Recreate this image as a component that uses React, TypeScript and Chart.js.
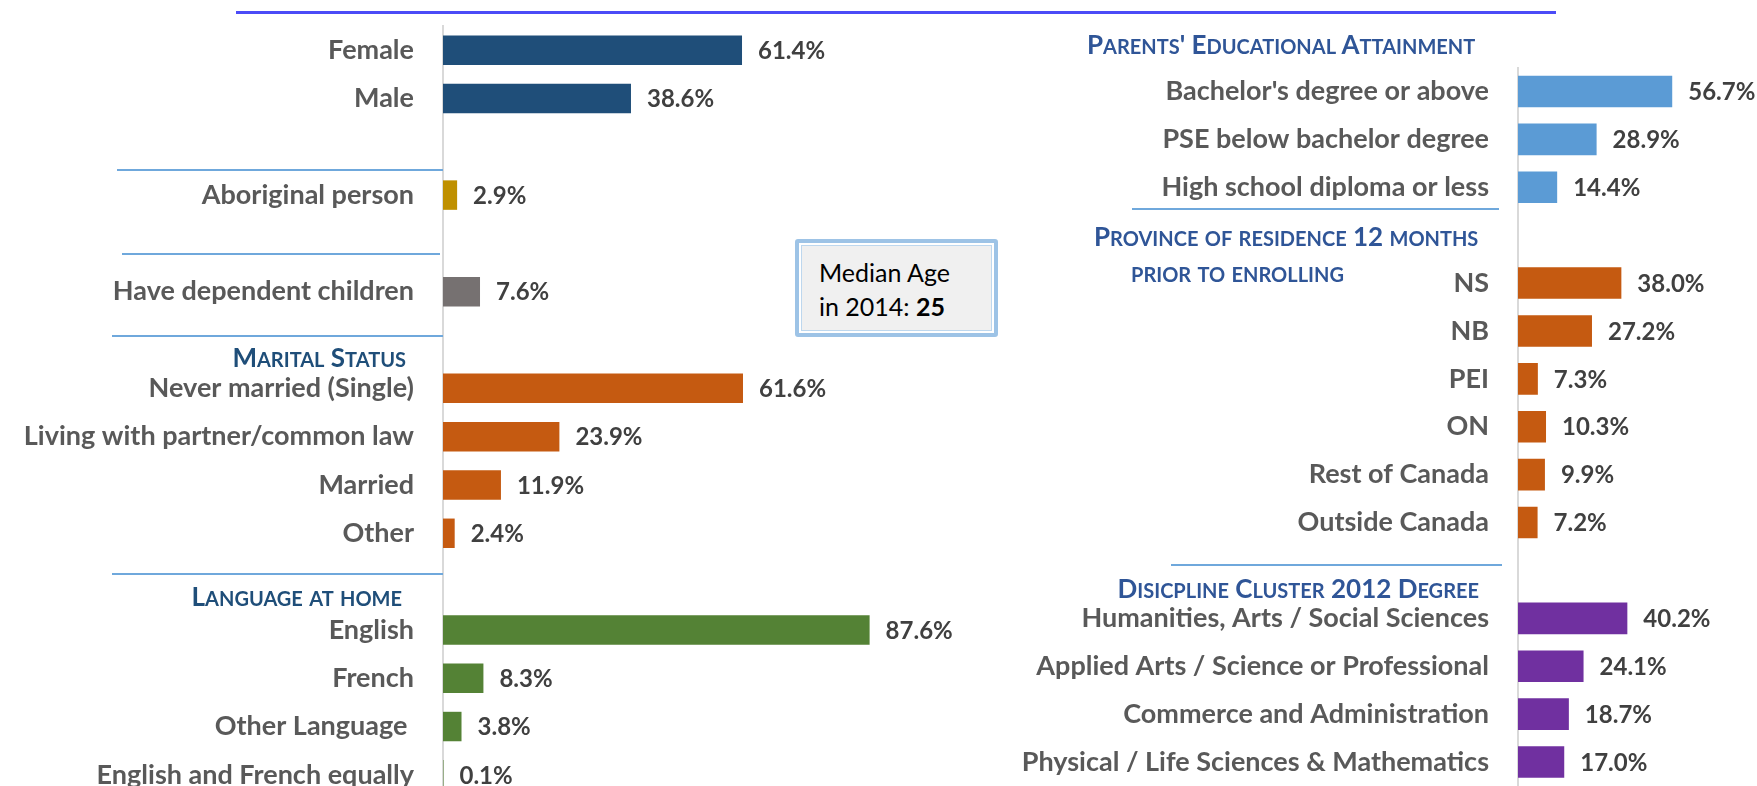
import React, { useEffect, useRef } from 'react';
import { Chart, registerables } from 'chart.js';

Chart.register(...registerables);

const FONT = 'Lato';

// ---------- Left panel data ----------
const leftCategories = [
  'Female',
  'Male',
  '',
  'Aboriginal person',
  '',
  'Have dependent children',
  '',
  'Never married (Single)',
  'Living with partner/common law',
  'Married',
  'Other',
  '',
  'English',
  'French',
  'Other Language ',
  'English and French equally',
];
const leftValues: (number | null)[] = [
  61.4, 38.6, null, 2.9, null, 7.6, null, 61.6, 23.9, 11.9, 2.4, null, 87.6, 8.3, 3.8, 0.1,
];
const leftGroups = [
  'gender', 'gender', '', 'aboriginal', '', 'children', '',
  'marital', 'marital', 'marital', 'marital', '',
  'language', 'language', 'language', 'language',
];

// ---------- Right panel data ----------
const rightCategories = [
  "Bachelor's degree or above",
  'PSE below bachelor degree',
  'High school diploma or less',
  '',
  'NS',
  'NB',
  'PEI',
  'ON',
  'Rest of Canada',
  'Outside Canada',
  '',
  'Humanities, Arts / Social Sciences',
  'Applied Arts / Science or Professional',
  'Commerce and Administration',
  'Physical / Life Sciences & Mathematics',
];
const rightValues: (number | null)[] = [
  56.7, 28.9, 14.4, null, 38.0, 27.2, 7.3, 10.3, 9.9, 7.2, null, 40.2, 24.1, 18.7, 17.0,
];
const rightGroups = [
  'parents', 'parents', 'parents', '',
  'province', 'province', 'province', 'province', 'province', 'province', '',
  'discipline', 'discipline', 'discipline', 'discipline',
];

const groupColors: Record<string, string> = {
  gender: '#1F4E79',
  aboriginal: '#BF9000',
  children: '#767171',
  marital: '#C55A11',
  language: '#548235',
  parents: '#5B9BD5',
  province: '#C55A11',
  discipline: '#7030A0',
  '': '#000000',
};

const CAT_SIZE = 27;
const VALUE_SIZE = 24;
const HEAD_SIZE = 26;

const valueLabelPlugin = {
  id: 'valueLabels',
  afterDatasetsDraw(chart: any) {
    const ctx = chart.ctx;
    const meta = chart.getDatasetMeta(0);
    const data = chart.data.datasets[0].data as (number | null)[];
    ctx.save();
    ctx.font = `bold ${VALUE_SIZE}px ${FONT}`;
    ctx.fillStyle = '#404040';
    ctx.textAlign = 'left';
    ctx.textBaseline = 'middle';
    meta.data.forEach((el: any, i: number) => {
      const v = data[i];
      if (v === null || v === undefined) return;
      ctx.fillText(v.toFixed(1) + '%', el.x + 16, el.y + 1);
    });
    ctx.restore();
  },
};

function makeConfig(
  labels: string[],
  values: (number | null)[],
  groups: string[],
  axisWidth: number,
  padTop: number,
  padRight: number,
  barPct: number
): any {
  return {
    type: 'bar',
    data: {
      labels,
      datasets: [
        {
          data: values,
          backgroundColor: groups.map((g) => groupColors[g]),
          barPercentage: barPct,
          categoryPercentage: 1,
        },
      ],
    },
    options: {
      indexAxis: 'y',
      responsive: false,
      maintainAspectRatio: false,
      animation: false,
      layout: { padding: { top: padTop, bottom: 0, left: 0, right: padRight } },
      plugins: { legend: { display: false }, tooltip: { enabled: false } },
      scales: {
        x: { display: false, min: 0, max: 100 },
        y: {
          afterFit: (s: any) => {
            s.width = axisWidth;
            s.paddingTop = 0;
            s.paddingBottom = 0;
          },
          grid: { display: false, drawTicks: false },
          border: { display: true, color: '#D9D9D9', width: 2 },
          ticks: {
            color: '#595959',
            autoSkip: false,
            padding: 29,
            font: { family: FONT, weight: 'bold', size: CAT_SIZE },
          },
        },
      },
    },
    plugins: [valueLabelPlugin],
  };
}

function SmallCaps({ text }: { text: string }) {
  const runs = text.match(/[a-z]+|[^a-z]+/g) || [];
  return (
    <>
      {runs.map((r, i) =>
        /[a-z]/.test(r) ? (
          <span key={i} style={{ fontSize: Math.round(HEAD_SIZE * 0.78) }}>
            {r.toUpperCase()}
          </span>
        ) : (
          <span key={i}>{r}</span>
        )
      )}
    </>
  );
}

const headerBase: React.CSSProperties = {
  position: 'absolute',
  fontFamily: FONT,
  fontWeight: 700,
  fontSize: HEAD_SIZE,
  lineHeight: HEAD_SIZE + 'px',
  whiteSpace: 'pre',
};

export default function App() {
  const leftRef = useRef<HTMLCanvasElement>(null);
  const rightRef = useRef<HTMLCanvasElement>(null);

  useEffect(() => {
    const left = new Chart(
      leftRef.current as HTMLCanvasElement,
      makeConfig(leftCategories, leftValues, leftGroups, 443, 26, 70, 0.61)
    );
    const right = new Chart(
      rightRef.current as HTMLCanvasElement,
      makeConfig(rightCategories, rightValues, rightGroups, 638, 67.5, 90, 0.66)
    );
    return () => {
      left.destroy();
      right.destroy();
    };
  }, []);

  const sep = (x1: number, x2: number, y: number): React.CSSProperties => ({
    position: 'absolute',
    left: x1,
    top: y,
    width: x2 - x1,
    height: 2,
    background: '#6FA8DC',
  });

  return (
    <div
      style={{
        position: 'absolute',
        left: 0,
        top: 0,
        width: 1757,
        height: 786,
        overflow: 'hidden',
        background: '#ffffff',
      }}
    >
      {/* top rule */}
      <div
        style={{
          position: 'absolute',
          left: 236,
          top: 11,
          width: 1320,
          height: 3,
          background: '#4B4BF7',
        }}
      />
      <canvas
        ref={leftRef}
        width={1000}
        height={799}
        style={{ position: 'absolute', left: 0, top: 0, width: 1000, height: 799 }}
      />
      <canvas
        ref={rightRef}
        width={1000}
        height={786}
        style={{ position: 'absolute', left: 880, top: 0, width: 1000, height: 786 }}
      />

      {/* left separators */}
      <div style={sep(117, 443, 169)} />
      <div style={sep(122, 440, 253)} />
      <div style={sep(112, 443, 335)} />
      <div style={sep(112, 443, 573)} />

      {/* right separators */}
      <div style={sep(1132, 1499, 208)} />
      <div style={sep(1171, 1502, 564)} />

      {/* headers */}
      <div style={{ ...headerBase, color: '#1F4E79', right: 1757 - 406, top: 344 }}>
        <SmallCaps text="Marital Status" />
      </div>
      <div style={{ ...headerBase, color: '#1F4E79', right: 1757 - 402, top: 583 }}>
        <SmallCaps text="Language at home" />
      </div>
      <div style={{ ...headerBase, color: '#2F5597', left: 1087, top: 31 }}>
        <SmallCaps text="Parents' Educational Attainment" />
      </div>
      <div style={{ ...headerBase, color: '#2F5597', left: 1094, top: 223 }}>
        <SmallCaps text="Province of residence 12 months" />
      </div>
      <div style={{ ...headerBase, color: '#2F5597', left: 1131, top: 259 }}>
        <SmallCaps text="prior to enrolling" />
      </div>
      <div style={{ ...headerBase, color: '#2F5597', right: 1757 - 1479, top: 575 }}>
        <SmallCaps text="Disicpline Cluster 2012 Degree" />
      </div>

      {/* median age box */}
      <div
        style={{
          position: 'absolute',
          left: 795,
          top: 239,
          width: 203,
          height: 98,
          boxSizing: 'border-box',
          border: '4px solid #9DC3E6',
          borderRadius: 3,
          boxShadow: 'inset 0 0 0 2px #ffffff, inset 0 0 0 3px #BDD7EE',
          background: '#F0F0F0',
          fontFamily: FONT,
          fontSize: 25,
          lineHeight: '34px',
          color: '#000000',
          padding: '12px 0 0 20px',
        }}
      >
        <div>Median Age</div>
        <div>
          in 2014: <b>25</b>
        </div>
      </div>
    </div>
  );
}
